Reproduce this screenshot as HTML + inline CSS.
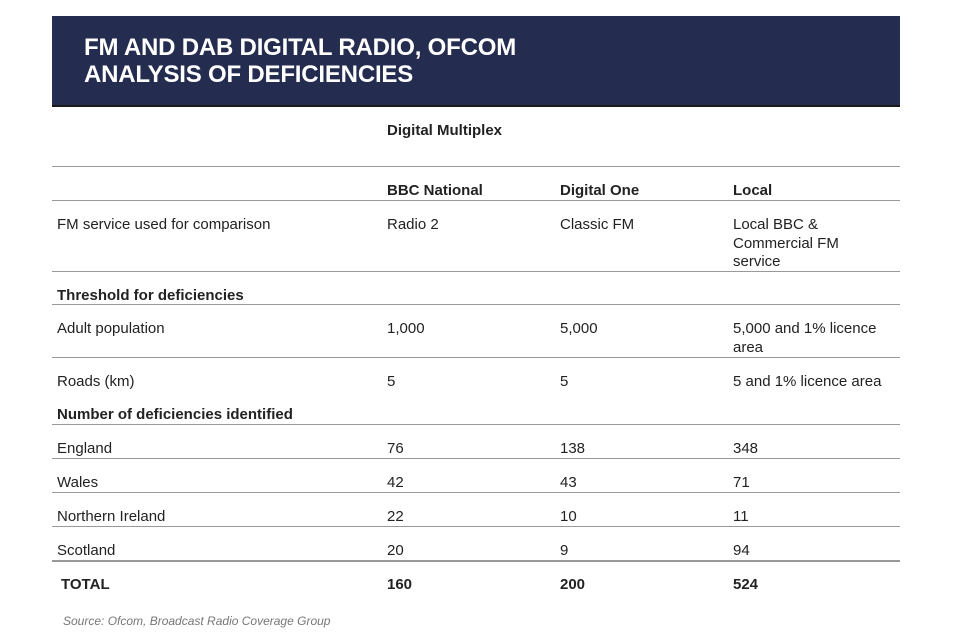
<!DOCTYPE html>
<html><head><meta charset="utf-8"><style>
body{margin:0;width:960px;height:640px;background:#fff;position:relative;overflow:hidden;font-family:"Liberation Sans",sans-serif;color:#222;}
.t{position:absolute;font-size:15px;line-height:18.5px;white-space:nowrap;margin-top:2px;}
.b{font-weight:bold;}
.l{position:absolute;left:52px;width:848px;height:1px;background:#999;}
#hdr{position:absolute;left:52px;top:16px;width:848px;height:89px;background:#242c4f;border-bottom:2px solid #1a1a1a;}
#title{position:absolute;left:32px;top:18px;color:#fff;font-weight:bold;font-size:24px;line-height:27px;letter-spacing:-0.2px;}
</style></head><body>
<div id="hdr"><div id="title">FM AND DAB DIGITAL RADIO, OFCOM<br>ANALYSIS OF DEFICIENCIES</div></div>
<div class="t b" style="left:387px;top:120px">Digital Multiplex</div>
<div class="l" style="top:166px"></div>
<div class="t b" style="left:387px;top:180px">BBC National</div>
<div class="t b" style="left:560px;top:180px">Digital One</div>
<div class="t b" style="left:733px;top:180px">Local</div>
<div class="l" style="top:200px"></div>
<div class="t" style="left:57px;top:214px">FM service used for comparison</div>
<div class="t" style="left:387px;top:214px">Radio 2</div>
<div class="t" style="left:560px;top:214px">Classic FM</div>
<div class="t" style="left:733px;top:214px">Local BBC &amp;<br>Commercial FM<br>service</div>
<div class="l" style="top:271px"></div>
<div class="t b" style="left:57px;top:285px">Threshold for deficiencies</div>
<div class="l" style="top:304px"></div>
<div class="t" style="left:57px;top:318px">Adult population</div>
<div class="t" style="left:387px;top:318px">1,000</div>
<div class="t" style="left:560px;top:318px">5,000</div>
<div class="t" style="left:733px;top:318px">5,000 and 1% licence<br>area</div>
<div class="l" style="top:357px"></div>
<div class="t" style="left:57px;top:371px">Roads (km)</div>
<div class="t" style="left:387px;top:371px">5</div>
<div class="t" style="left:560px;top:371px">5</div>
<div class="t" style="left:733px;top:371px">5 and 1% licence area</div>
<div class="t b" style="left:57px;top:404px">Number of deficiencies identified</div>
<div class="l" style="top:424px"></div>
<div class="t" style="left:57px;top:438px">England</div>
<div class="t" style="left:387px;top:438px">76</div>
<div class="t" style="left:560px;top:438px">138</div>
<div class="t" style="left:733px;top:438px">348</div>
<div class="l" style="top:458px"></div>
<div class="t" style="left:57px;top:472px">Wales</div>
<div class="t" style="left:387px;top:472px">42</div>
<div class="t" style="left:560px;top:472px">43</div>
<div class="t" style="left:733px;top:472px">71</div>
<div class="l" style="top:492px"></div>
<div class="t" style="left:57px;top:506px">Northern Ireland</div>
<div class="t" style="left:387px;top:506px">22</div>
<div class="t" style="left:560px;top:506px">10</div>
<div class="t" style="left:733px;top:506px">11</div>
<div class="l" style="top:526px"></div>
<div class="t" style="left:57px;top:540px">Scotland</div>
<div class="t" style="left:387px;top:540px">20</div>
<div class="t" style="left:560px;top:540px">9</div>
<div class="t" style="left:733px;top:540px">94</div>
<div class="l" style="top:560px;height:2px"></div>
<div class="t b" style="left:61px;top:574px">TOTAL</div>
<div class="t b" style="left:387px;top:574px">160</div>
<div class="t b" style="left:560px;top:574px">200</div>
<div class="t b" style="left:733px;top:574px">524</div>
<div class="t" style="left:63px;top:610px;font-size:12px;font-style:italic;color:#777">Source: Ofcom, Broadcast Radio Coverage Group</div>
</body></html>
